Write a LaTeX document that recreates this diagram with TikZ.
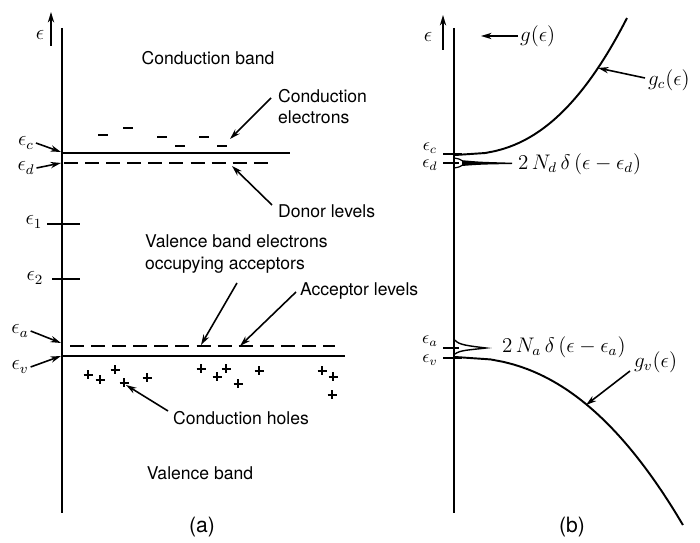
\documentclass[tikz,border=0pt]{standalone}
\usepackage{amsmath}
\usepackage{fontspec}
\setsansfont{TeX Gyre Heros}
\usetikzlibrary{arrows.meta}

\begin{document}
\begin{tikzpicture}[
  x=0.02cm, y=-0.02cm,
  lbl/.style={font=\sffamily, align=left, inner sep=1pt},
  sym/.style={font=\large, inner sep=1pt},
  lvlname/.style={inner sep=0pt},
  arr/.style={-{Stealth[length=6pt, width=3.6pt]}, line width=0.9pt},
  axisline/.style={line width=1.1pt},
  band/.style={line width=1.1pt},
  lvl/.style={line width=1.1pt, dash pattern=on 8pt off 4pt},
  tic/.style={line width=1pt}
]
  \useasboundingbox (0,0) rectangle (700,543);

  % ---- (a) band picture
  \draw[axisline] (62,28) -- (62,513);
  \draw[arr] (51,46) -- (51,12);
  \node[sym] (epsA) at (40,35) {$\epsilon$};

  \node[lbl] (cb) at (208,58) {Conduction band};
  \node[lbl] (vb) at (200,473) {Valence band};
  \node[lbl] (ce) [anchor=west] at (276,107) {Conduction\\electrons};
  \node[lbl] (dl) [anchor=west] at (276,211) {Donor levels};
  \node[lbl] (ve) [anchor=west] at (143,254) {Valence band electrons\\occupying acceptors};
  \node[lbl] (al) [anchor=west] at (298,291) {Acceptor levels};
  \node[lbl] (ch) at (241,418) {Conduction holes};
  \node[sym] (capa) at (202,527) {\sffamily(a)};

  % levels
  \draw[band] (62,153) -- (290,153);
  \draw[lvl]  (64,163) -- (272,163);
  \draw[lvl]  (70,346) -- (335,346);
  \draw[band] (62,356) -- (345,356);
  \draw[tic]  (47,224) -- (80,224);
  \draw[tic]  (52,279) -- (80,279);

  \node[sym] (ec)  at (26,143) {$\epsilon_c$};
  \node[sym] (ed)  at (26,168) {$\epsilon_d$};
  \node[sym] (e1)  at (34,222) {$\epsilon_1$};
  \node[sym] (e2)  at (35,278) {$\epsilon_2$};
  \node[sym] (ea)  at (20,331) {$\epsilon_a$};
  \node[sym] (ev)  at (20,367) {$\epsilon_v$};

  \coordinate (ecT) at (61,152);
  \coordinate (edT) at (61,163);
  \coordinate (eaT) at (61,343);
  \coordinate (evT) at (61,356);
  \draw[arr] (ec.east) -- (ecT);
  \draw[arr] (ed.east) -- (edT);
  \draw[arr] (ea.east) -- (eaT);
  \draw[arr] (ev.east) -- (evT);

  % electrons and holes
  \foreach \p in {(103,135),(128,128),(162,137),(180,146),(204,137),(222,146)}
    \draw[line width=1.1pt] \p ++(-5,0) -- ++(10,0);
  \foreach \p in {(88,375),(100,380),(115,370),(124,383),(147,378),(201,369),
                  (217,377),(226,369),(238,384),(259,371),(322,371),(333,377),(332,395)}
    \draw[line width=1.1pt] \p ++(-4.5,0) -- ++(9,0) \p ++(0,-4.5) -- ++(0,9);

  \coordinate (ceT) at (230,139);
  \coordinate (dlT) at (232,166);
  \coordinate (veT) at (201,345);
  \coordinate (alT) at (240,346);
  \coordinate (chT) at (126,385);
  \draw[arr] ([shift={(-5,-9)}]ce.west) -- (ceT);
  \draw[arr] ([shift={(-4,-6)}]dl.west) -- (dlT);
  \draw[arr] ([shift={(94,8)}]ve.south west) -- (veT);
  \draw[arr] ([shift={(-2,1)}]al.west) -- (alT);
  \draw[arr] ([shift={(-3,-7)}]ch.west) -- (chT);

  % ---- (b) density of states
  \draw[axisline] (454,28) -- (454,513);
  \draw[arr] (443,50) -- (443,15);
  \node[sym] (epsB) at (428,37) {$\epsilon$};

  \node[sym] (gl) [anchor=west] at (518,36) {$g(\epsilon)$};
  \coordinate (glT) at (481,36);
  \draw[arr] (gl.west) -- (glT);

  \draw[band] (454,155) -- (455.5,155)
    -- plot[domain=0.001:137, samples=70] ({454+23.7*pow(\x,0.404)},{155-\x});
  \draw[band] (454,357) -- (455.5,357)
    -- plot[domain=0.001:168, samples=70] ({454+24.9*pow(\x,0.433)},{357+\x});

  \draw[tic] (443,154) -- (462,154);
  \draw[tic] (443,163) -- (459,163);
  \draw[tic] (443,348) -- (459,348);
  \draw[tic] (443,358) -- (462,358);

  % delta peaks
  \draw[line width=0.7pt] (454,158) .. controls (460,159) .. (465,163) .. controls (460,167) .. (454,168);
  \fill (462,160.2) .. controls (480,161.8) .. (512,162.7) -- (512,164) .. controls (480,164.6) .. (462,166) -- cycle;
  \draw[line width=0.8pt] (455,340) .. controls (458,345) and (470,346) .. (486,348)
    .. controls (470,350) and (460,350) .. (455,354);

  \node[lvlname] (ecB) at (430,148) {$\epsilon_c$};
  \node[lvlname] (edB) at (430,165) {$\epsilon_d$};
  \node[lvlname] (eaB) at (430,341) {$\epsilon_a$};
  \node[lvlname] (evB) at (430,360) {$\epsilon_v$};

  \node[sym] (nd) [anchor=west] at (516,164) {$2\,N_d\,\delta\,(\epsilon-\epsilon_d)$};
  \node[sym] (na) [anchor=west] at (500,347) {$2\,N_a\,\delta\,(\epsilon-\epsilon_a)$};

  \node[sym] (gc) [anchor=west] at (646,80) {$g_c(\epsilon)$};
  \node[sym] (gv) [anchor=west] at (632,362) {$g_v(\epsilon)$};
  \coordinate (gcT) at (598,68);
  \coordinate (gvT) at (586,405);
  \draw[arr] ([shift={(-1,-2)}]gc.west) -- (gcT);
  \draw[arr] ([shift={(-2,9)}]gv.west) -- (gvT);

  \node[sym] (capb) at (572,527) {\sffamily(b)};
\end{tikzpicture}
\end{document}
